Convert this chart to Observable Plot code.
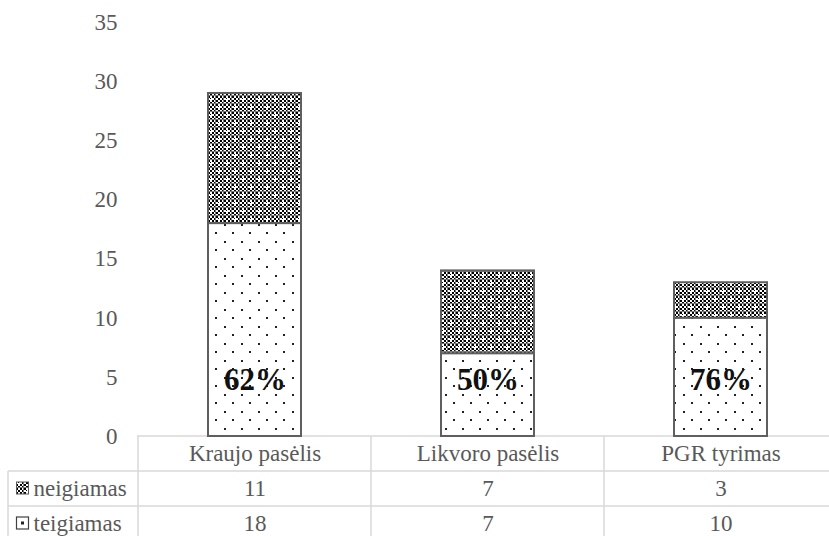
<!DOCTYPE html>
<html>
<head>
<meta charset="utf-8">
<script src="https://cdn.jsdelivr.net/npm/d3@7"></script>
<script src="https://cdn.jsdelivr.net/npm/@observablehq/plot@0.6"></script>
<style>
  html, body { margin: 0; padding: 0; background: #fff; }
  #chart svg, #chart svg text { font-family: "Liberation Serif", "Times New Roman", serif !important; }
</style>
</head>
<body>
<div id="chart"></div>
<script>
// Test results per test type
const categories = ["Kraujo pasėlis", "Likvoro pasėlis", "PGR tyrimas"];
const seriesNames = ["neigiamas", "teigiamas"];
const teigiamas = [18, 7, 10];
const neigiamas = [11, 7, 3];
const shareLabels = ["62%", "50%", "76%"];
const yTicks = [0, 5, 10, 15, 20, 25, 30, 35];

// long format for stacking: positive results at the base
const rows = categories.flatMap((cat, i) => [
  {cat, series: "teigiamas", value: teigiamas[i]},
  {cat, series: "neigiamas", value: neigiamas[i]}
]);
const shares = categories.map((cat, i) => ({cat, label: shareLabels[i]}));

const font = "Liberation Serif, serif";
const grey = "#595959";
const rowH = 35;

const chart = Plot.plot({
  width: 829,
  height: 536,
  marginTop: 22,
  marginBottom: 100,
  marginLeft: 138,
  marginRight: 0,
  style: {fontSize: "23px", color: grey, background: "#fff", overflow: "visible"},
  x: {domain: categories, range: [138, 837], paddingInner: 0.6, paddingOuter: 0.3, axis: null},
  y: {domain: [0, 35]},
  color: {domain: ["teigiamas", "neigiamas"], range: ["url(#dots)", "url(#mesh)"]},
  marks: [
    Plot.axisY(yTicks, {tickSize: 0, tickPadding: 21, fontSize: 23, fontVariant: "normal", fill: grey, label: null}),
    Plot.barY(rows, {x: "cat", y: "value", fill: "series", stroke: "#5f5f5f", strokeWidth: 2}),
    Plot.text(shares, {x: "cat", y: 0, dy: -56.5, text: "label", fontSize: 31, fontWeight: "bold", fill: "#111"}),
    // data table under the bars
    Plot.text(categories, {x: d => d, y: 0, dy: rowH / 2, text: d => d, fill: grey}),
    Plot.text(rows.filter(d => d.series === "neigiamas"), {x: "cat", y: 0, dy: rowH * 1.5, text: "value", fill: grey}),
    Plot.text(rows.filter(d => d.series === "teigiamas"), {x: "cat", y: 0, dy: rowH * 2.5, text: "value", fill: grey}),
    Plot.text([seriesNames[0]], {y: 0, frameAnchor: "left", dx: -105, dy: rowH * 1.5, text: d => d, textAnchor: "start", fill: grey}),
    Plot.text([seriesNames[1]], {y: 0, frameAnchor: "left", dx: -105, dy: rowH * 2.5, text: d => d, textAnchor: "start", fill: grey})
  ]
});
document.getElementById("chart").appendChild(chart);

const svg = d3.select(chart);
// typeface for every label
svg.attr("font-family", font).style("font-family", font);
svg.selectAll("g").attr("font-family", null);
svg.selectAll("text").attr("font-family", null).style("font-family", font);

// fill patterns
const defs = svg.insert("defs", ":first-child");
const chk = defs.append("pattern").attr("id", "chk")
  .attr("width", 4).attr("height", 4).attr("patternUnits", "userSpaceOnUse");
chk.append("rect").attr("width", 4).attr("height", 4).attr("fill", "#fff");
chk.append("rect").attr("width", 2).attr("height", 2).attr("fill", "#000");
chk.append("rect").attr("x", 2).attr("y", 2).attr("width", 2).attr("height", 2).attr("fill", "#000");

const mesh = defs.append("pattern").attr("id", "mesh")
  .attr("width", 16).attr("height", 16).attr("patternUnits", "userSpaceOnUse");
mesh.append("rect").attr("width", 16).attr("height", 16).attr("fill", "url(#chk)");
for (const p of [7, 15]) {
  mesh.append("rect").attr("x", p).attr("width", 1).attr("height", 16).attr("fill", "#7a7a7a");
  mesh.append("rect").attr("y", p).attr("width", 16).attr("height", 1).attr("fill", "#7a7a7a");
}
for (const [cx, cy] of [[3, 3], [11, 11]]) {
  mesh.append("rect").attr("x", cx - 1).attr("y", cy).attr("width", 3).attr("height", 1).attr("fill", "#fff");
  mesh.append("rect").attr("x", cx).attr("y", cy - 1).attr("width", 1).attr("height", 3).attr("fill", "#fff");
}

const dots = defs.append("pattern").attr("id", "dots")
  .attr("width", 17).attr("height", 17).attr("patternUnits", "userSpaceOnUse");
dots.append("rect").attr("width", 17).attr("height", 17).attr("fill", "#fff");
dots.append("rect").attr("x", 3).attr("y", 3).attr("width", 2).attr("height", 2).attr("fill", "#222");
dots.append("rect").attr("x", 11).attr("y", 11).attr("width", 2).attr("height", 2).attr("fill", "#222");

// table grid
const xs = chart.scale("x");
const centers = categories.map(c => xs.apply(c) + xs.bandwidth / 2);
const step = centers[1] - centers[0];
const bounds = [centers[0] - step / 2, ...centers.map(c => c + step / 2)];
const y0 = chart.scale("y").apply(0);
const W = 829, H = 536;
const grid = svg.insert("g", "g").attr("stroke", "#d9d9d9").attr("stroke-width", 1.5);
grid.append("line").attr("x1", bounds[0] - 1).attr("x2", W).attr("y1", y0).attr("y2", y0);
for (const k of [1, 2, 3]) {
  grid.append("line").attr("x1", 8).attr("x2", W).attr("y1", y0 + rowH * k).attr("y2", y0 + rowH * k);
}
grid.append("line").attr("x1", 8).attr("x2", 8).attr("y1", y0 + rowH).attr("y2", H);
for (const b of bounds) {
  grid.append("line").attr("x1", b).attr("x2", b).attr("y1", y0).attr("y2", H);
}

// legend keys in the table's first column
const keys = svg.append("g");
const k1 = y0 + rowH * 1.5, k2 = y0 + rowH * 2.5;
keys.append("rect").attr("x", 16.5).attr("y", k1 - 6.5).attr("width", 12).attr("height", 12)
  .attr("fill", "url(#mesh)").attr("stroke", "#595959").attr("stroke-width", 1);
keys.append("rect").attr("x", 16.5).attr("y", k2 - 6.5).attr("width", 12).attr("height", 12)
  .attr("fill", "#fff").attr("stroke", "#404040").attr("stroke-width", 1.2);
keys.append("rect").attr("x", 21).attr("y", k2 - 2).attr("width", 3).attr("height", 3).attr("fill", "#222");
</script>
</body>
</html>
